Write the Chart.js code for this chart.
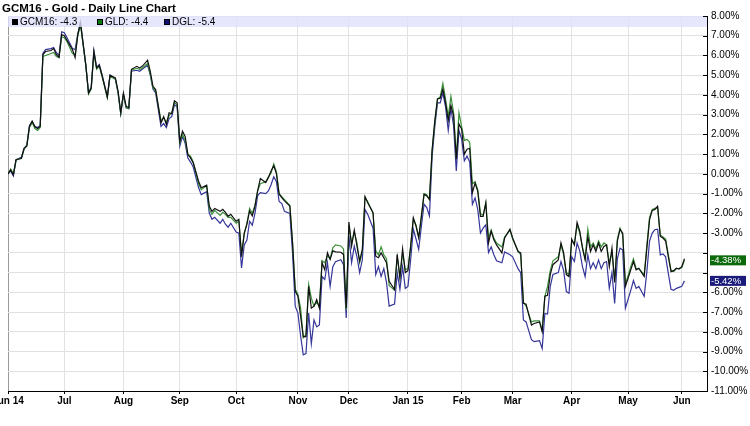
<!DOCTYPE html>
<html>
<head>
<meta charset="utf-8">
<script src="https://cdn.jsdelivr.net/npm/chart.js@4.4.1/dist/chart.umd.min.js"></script>
<style>
  body { margin: 0; background: #fff; }
  #wrap { width: 750px; height: 426px; }
</style>
</head>
<body>
<div id="wrap"><canvas id="goldChart" width="750" height="426"></canvas></div>
<script>
// trading day index since Jun 2 2014
const days = [
  0, 1, 2, 3, 5, 6, 7, 8, 9, 10,
  11, 12, 13, 14, 16, 17, 18, 19, 20, 21,
  22, 24, 25, 26, 27, 29, 30, 31, 32, 33,
  34, 35, 37, 38, 40, 41, 42, 43, 44, 45,
  46, 48, 49, 50, 52, 53, 54, 55, 57, 58,
  59, 60, 61, 62, 63, 64, 65, 66, 67, 68,
  69, 71, 72, 74, 75, 76, 77, 79, 80, 81,
  82, 83, 85, 86, 87, 88, 89, 90, 91, 92,
  93, 94, 96, 97, 98, 99, 100, 101, 102, 103,
  105, 106, 107, 108, 109, 110, 111, 112, 113, 114,
  115, 116, 117, 118, 119, 120, 121, 122, 124, 125,
  126, 127, 128, 129, 130, 131, 132, 133, 134, 136,
  137, 138, 139, 140, 141, 142, 144, 145, 146, 147,
  148, 149, 150, 151, 152, 153, 154, 155, 156, 157,
  158, 159, 160, 161, 162, 163, 164, 165, 166, 167,
  168, 169, 170, 171, 172, 173, 174, 175, 176, 177,
  178, 179, 180, 181, 182, 184, 185, 187, 188, 190,
  191, 192, 193, 195, 196, 198, 199, 200, 201, 202,
  203, 205, 206, 207, 208, 209, 210, 211, 212, 213,
  214, 215, 216, 217, 218, 219, 220, 221, 222, 223,
  224, 225, 226, 227, 228, 229, 230, 232, 233, 234,
  235, 237, 238, 239, 240, 241, 242, 243, 244, 245,
  246, 247, 248, 249, 250, 251, 252
];

const gcm16 = [
  0, 0.2, -0.05, 0.73, 0.78, 1.3, 1.4, 2.4, 2.67, 2.4,
  2.3, 2.4, 6.05, 6.2, 6.25, 6.35, 6.05, 5.9, 7.06, 7.0,
  6.76, 6.3, 5.9, 7.06, 7.65, 5.5, 4.1, 4.35, 6.2, 5.37,
  5.5, 5.0, 3.9, 5.0, 4.86, 4.2, 3.1, 4.1, 3.43, 3.35,
  5.3, 5.45, 5.37, 5.45, 5.76, 5.2, 4.44, 4.27, 2.58, 2.9,
  2.5, 3.1, 3.05, 3.7, 3.6, 1.65, 2.16, 1.9, 0.98, 0.81,
  0.56, -0.37, -0.7, -0.57, -1.64, -1.9, -1.75, -1.9, -1.8, -1.95,
  -2.15, -2.05, -2.4, -2.3, -4.2, -3.0, -2.56, -1.88, -2.13, -1.63,
  -0.86, -0.24, -0.44, -0.19, 0.15, 0.41, 0.0, -1.03, -1.2, -1.37,
  -1.63, -3.5, -5.95, -6.2, -7.2, -8.24, -8.24, -5.7, -6.8, -6.7,
  -6.37, -6.8, -4.5, -4.85, -4.0, -4.34, -3.9, -3.95, -3.97, -4.08,
  -6.8, -2.44, -3.66, -2.85, -3.66, -4.42, -3.83, -1.15, -1.46, -1.97,
  -4.17, -4.25, -4.0, -4.25, -4.5, -5.44, -5.86, -4.08, -5.27, -3.8,
  -5.0, -4.9, -3.66, -2.22, -2.64, -3.24, -2.13, -1.03, -1.12, -1.29,
  1.22, 2.7, 3.8, 3.83, 4.3, 3.6, 2.7, 3.46, 2.95, 0.75,
  2.53, 2.27, 1.0, 1.25, 1.3, -0.95, -0.46, -0.88, -2.15, -2.15,
  -1.47, -3.5, -2.9, -3.34, -3.6, -4.0, -3.25, -2.8, -3.25, -3.93,
  -4.0, -6.56, -6.6, -7.66, -7.58, -7.5, -8.0, -6.2, -6.15, -5.1,
  -4.6, -4.36, -3.5, -4.0, -5.1, -5.2, -3.3, -3.6, -2.46, -2.9,
  -3.76, -4.36, -3.17, -3.93, -3.59, -3.93, -3.5, -3.93, -3.68, -3.6,
  -4.7, -3.76, -5.5, -3.4, -2.8, -3.0, -5.7, -4.86, -4.44, -4.86,
  -4.78, -5.2, -3.76, -2.32, -1.85, -1.8, -1.64, -3.17, -3.25, -3.4,
  -4.2, -4.95, -4.9, -4.78, -4.82, -4.7, -4.3
];

const gld = [
  0, 0.25, 0, 0.7, 0.8, 1.25, 1.45, 2.35, 2.6, 2.3,
  2.2, 2.35, 5.95, 6.0, 6.1, 6.15, 5.95, 5.9, 6.95, 6.9,
  6.7, 6.1, 6.05, 7.0, 7.55, 5.5, 4.05, 4.3, 6.1, 5.3,
  5.45, 4.95, 3.85, 4.95, 4.8, 4.15, 3.05, 4.05, 3.35, 3.3,
  5.25, 5.35, 5.3, 5.35, 5.6, 5.05, 4.35, 4.2, 2.7, 2.85,
  2.6, 2.95, 3.1, 3.6, 3.5, 1.55, 2.0, 1.7, 1.0, 0.9,
  0.6, -0.5, -0.8, -0.6, -1.8, -2.05, -1.85, -2.1, -1.95, -2.05,
  -2.2, -2.2, -2.5, -2.4, -4.0, -3.05, -2.5, -1.75, -2.0, -1.6,
  -0.85, -0.5, -0.4, -0.15, 0.05, 0.5, 0.1, -1.0, -1.15, -1.3,
  -1.6, -3.45, -5.85, -6.1, -6.8, -8.3, -8.15, -5.6, -6.3, -6.7,
  -6.5, -6.7, -4.4, -4.5, -4.15, -4.3, -3.75, -3.6, -3.65, -3.8,
  -6.9, -2.6, -3.5, -2.95, -3.5, -4.5, -3.9, -1.2, -1.4, -2.0,
  -3.9, -4.1, -3.7, -4.1, -4.3, -5.65, -5.9, -4.2, -5.2, -4.0,
  -4.85, -4.8, -3.7, -2.3, -2.6, -3.2, -2.2, -1.0, -1.05, -1.3,
  1.2, 2.6, 3.8, 3.9, 4.58, 3.8, 2.9, 3.93, 3.1, 0.8,
  3.1, 2.4, 1.7, 1.75, 1.6, -0.5, -0.4, -0.8, -2.0, -2.1,
  -1.47, -3.25, -2.85, -3.25, -3.5, -3.7, -3.2, -2.85, -3.3, -3.9,
  -4.1, -6.5, -6.7, -7.5, -7.45, -7.45, -7.9, -6.2, -5.7, -4.9,
  -4.4, -4.2, -3.6, -4.1, -5.0, -5.1, -3.4, -3.55, -2.6, -3.0,
  -3.7, -4.3, -2.8, -3.7, -3.5, -3.8, -3.4, -3.7, -3.5, -3.6,
  -4.5, -4.0, -5.4, -3.3, -2.75, -3.1, -5.6, -4.7, -4.3, -4.8,
  -4.8, -5.1, -3.6, -2.2, -1.8, -1.75, -1.7, -3.1, -3.2, -3.3,
  -4.1, -4.9, -4.95, -4.8, -4.78, -4.75, -4.38
];

const dgl = [
  0, 0.15, -0.1, 0.7, 0.85, 1.3, 1.45, 2.45, 2.65, 2.4,
  2.35, 2.45, 6.1, 6.3, 6.35, 6.4, 6.15, 6.0, 7.2, 7.15,
  6.9, 6.35, 6.3, 7.1, 7.7, 5.5, 4.1, 4.4, 6.25, 5.4,
  5.55, 5.05, 3.9, 5.0, 4.8, 4.1, 3.05, 4.0, 3.35, 3.3,
  5.2, 5.25, 5.2, 5.3, 5.5, 5.0, 4.3, 4.1, 2.4, 2.55,
  2.35, 2.8, 2.9, 3.5, 3.4, 1.4, 1.9, 1.55, 0.8, 0.6,
  0.35, -0.7, -1.05, -0.9, -2.0, -2.3, -2.2, -2.5, -2.3, -2.55,
  -2.7, -2.5, -2.95, -3.0, -4.76, -3.6, -3.35, -2.4, -2.6, -2.0,
  -1.1, -0.95, -1.0, -0.86, -0.55, -0.14, -0.4, -1.4, -1.5, -1.9,
  -2.0, -4.0, -6.7, -7.05, -8.2, -9.17, -9.1, -7.05, -8.6, -7.4,
  -7.75, -7.65, -5.2, -5.35, -4.5, -5.7, -4.7, -4.45, -4.35, -4.6,
  -7.3, -3.15, -4.5, -3.66, -4.2, -5.0, -4.35, -1.8, -2.05, -2.75,
  -5.1, -4.7, -5.2, -4.8, -5.5, -6.7, -6.6, -5.0, -5.85, -4.7,
  -5.8, -5.7, -4.35, -2.8, -3.3, -3.83, -2.64, -1.54, -1.71, -2.13,
  0.9, 2.4, 3.6, 3.6, 4.1, 3.4, 2.2, 3.3, 2.44, 0.15,
  2.2, 1.76, 0.66, 0.9, 0.6, -1.55, -1.22, -1.8, -3.0, -2.75,
  -2.58, -3.98, -3.7, -4.1, -4.4, -4.5, -3.95, -4.1, -4.2, -4.8,
  -5.0, -7.4, -7.5, -8.4, -8.5, -8.45, -8.85, -7.07, -7.1, -5.7,
  -5.1, -5.0, -4.44, -4.9, -5.96, -6.05, -4.2, -4.44, -3.5, -3.9,
  -4.7, -5.2, -4.1, -4.8, -4.5, -4.8, -4.36, -4.8, -4.5, -4.44,
  -5.8, -5.0, -6.56, -4.3, -3.76, -3.85, -6.8, -5.9, -5.4, -5.8,
  -5.7, -6.2, -4.95, -3.4, -3.0, -2.83, -2.8, -4.1, -4.05, -4.2,
  -5.05, -5.85, -5.9, -5.8, -5.75, -5.7, -5.42
];

// month starts (trading day index) and their labels
const monthDays = [0, 21, 43, 64, 85, 108, 127, 149, 169, 188, 210, 231, 251];
const monthLabels = ["Jun 14", "Jul", "Aug", "Sep", "Oct", "Nov", "Dec", "Jan 15", "Feb", "Mar", "Apr", "May", "Jun"];

const FONT = '"Liberation Sans", Arial, Helvetica, sans-serif';

function pts(values) {
  return days.map((d, i) => ({ x: d, y: values[i] }));
}

const legendItems = [
  { label: "GCM16", values: gcm16, box: "#000000", x: 12 },
  { label: "GLD", values: gld, box: "#0a7a0a", x: 97 },
  { label: "DGL", values: dgl, box: "#101070", x: 164 }
];

const lastBoxes = [
  { values: gld, color: "#0b6b0b" },
  { values: dgl, color: "#1b1b7c" }
];

const overlay = {
  id: "overlay",
  afterDatasetsDraw(chart) {
    const { ctx, chartArea: a, scales: { y } } = chart;
    ctx.save();

    // legend strip over the top of the plot
    ctx.fillStyle = "rgba(224,224,252,0.8)";
    ctx.fillRect(a.left, a.top, a.right - a.left, 11);
    ctx.font = "10px " + FONT;
    ctx.textBaseline = "middle";
    legendItems.forEach(it => {
      ctx.fillStyle = it.box;
      ctx.fillRect(it.x, a.top + 3, 6, 6);
      ctx.strokeStyle = "#000";
      ctx.lineWidth = 1;
      ctx.strokeRect(it.x + 0.5, a.top + 3.5, 5, 5);
      ctx.fillStyle = "#000";
      const last = it.values[it.values.length - 1];
      ctx.fillText(it.label + ": " + last.toFixed(1), it.x + 8, a.top + 6.5);
    });

    // inward tick marks on the right axis
    ctx.strokeStyle = "#000";
    ctx.lineWidth = 1;
    y.ticks.forEach(t => {
      const py = Math.round(y.getPixelForValue(t.value)) + 0.5;
      ctx.beginPath();
      ctx.moveTo(a.right - 4, py);
      ctx.lineTo(a.right, py);
      ctx.stroke();
    });

    // last value boxes
    ctx.font = "9.5px " + FONT;
    ctx.textBaseline = "middle";
    lastBoxes.forEach(b => {
      const v = b.values[b.values.length - 1];
      const py = y.getPixelForValue(v);
      ctx.fillStyle = b.color;
      ctx.fillRect(a.right + 3, py - 5, 36, 10);
      ctx.fillStyle = "#fff";
      ctx.fillText(v.toFixed(2) + "%", a.right + 4, py + 0.5);
    });

    ctx.restore();
  },
  afterDraw(chart) {
    const { ctx } = chart;
    ctx.save();
    ctx.font = "bold 11.5px " + FONT;
    ctx.fillStyle = "#000";
    ctx.textBaseline = "alphabetic";
    ctx.fillText("GCM16 - Gold - Daily Line Chart", 2, 12);
    ctx.restore();
  }
};

new Chart(document.getElementById("goldChart").getContext("2d"), {
  type: "line",
  data: {
    datasets: [
      { label: "GCM16", data: pts(gcm16), borderColor: "#111111", order: 0 },
      { label: "GLD", data: pts(gld), borderColor: "#3a8f3a", order: 1 },
      { label: "DGL", data: pts(dgl), borderColor: "#35359a", order: 2 }
    ]
  },
  options: {
    responsive: false,
    animation: false,
    layout: { padding: { top: 16, left: 8, right: 0, bottom: 0 } },
    elements: {
      line: { borderWidth: 1.2, tension: 0 },
      point: { radius: 0 }
    },
    plugins: {
      legend: { display: false },
      title: { display: false },
      tooltip: { enabled: false }
    },
    scales: {
      x: {
        type: "linear",
        min: 0,
        max: 260.4,
        afterBuildTicks: s => { s.ticks = monthDays.map(v => ({ value: v })); },
        afterFit: s => { s.height = 35; s.paddingLeft = 0; s.paddingRight = 0; },
        ticks: {
          autoSkip: false,
          maxRotation: 0,
          padding: 1,
          color: "#000",
          font: { family: FONT, size: 10, weight: "bold" },
          callback: v => monthLabels[monthDays.indexOf(v)]
        },
        grid: {
          color: c => (c.tick && c.tick.value === 0) ? "#999999" : "#e1e1e1",
          tickLength: 3,
          tickColor: "#000"
        },
        border: { color: "#000" }
      },
      y: {
        position: "right",
        min: -11,
        max: 8,
        afterFit: s => { s.width = 43; },
        ticks: {
          stepSize: 1,
          padding: 4,
          color: "#000",
          font: { family: FONT, size: 10 },
          callback: v => (v === -4 || v === -5) ? "" : v.toFixed(2) + "%"
        },
        grid: { color: "#e1e1e1", drawTicks: false },
        border: { color: "#000" }
      }
    }
  },
  plugins: [overlay]
});
</script>
</body>
</html>
